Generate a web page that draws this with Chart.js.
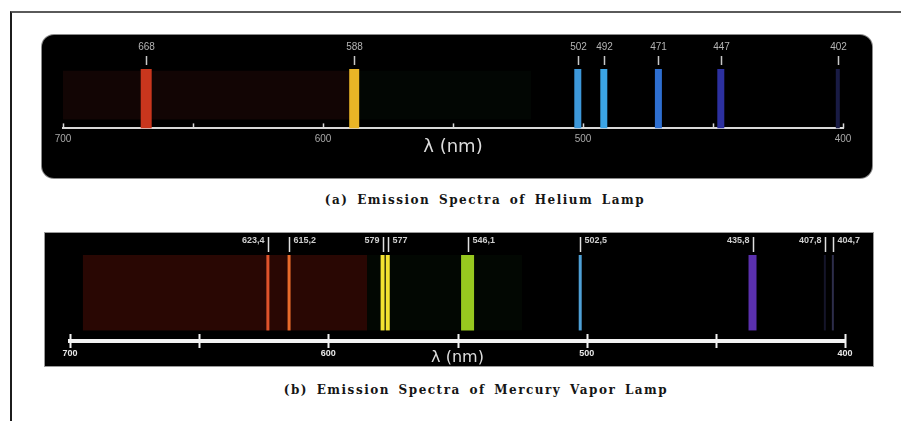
<!DOCTYPE html>
<html>
<head>
<meta charset="utf-8">
<script src="https://cdn.jsdelivr.net/npm/chart.js@4"></script>
<style>
html,body{margin:0;padding:0;background:#fff;width:901px;height:421px;overflow:hidden}
.frame{position:absolute;left:10px;top:11px;width:900px;height:420px;border-top:2px solid #5a5a5a;border-left:2px solid #1c1c1c}
.panel{position:absolute;background:#000}
#pa{left:42px;top:35px;width:830px;height:143px;border-radius:12px;box-shadow:0 0 0 1px #8a8a8a}
#pb{left:45px;top:233px;width:828px;height:133px;box-shadow:0 0 0 1px #9a9a9a}
.cap{position:absolute;width:460px;text-align:center;font:bold 12px "DejaVu Serif","Liberation Serif",serif;color:#151515;letter-spacing:1.5px;word-spacing:3px;line-height:16px;white-space:nowrap}
#ca{left:255px;top:192px}
#cb{left:246px;top:382px}
</style>
</head>
<body>
<div class="frame"></div>
<div class="panel" id="pa"><canvas id="heChart"></canvas></div>
<div class="cap" id="ca">(a) Emission Spectra of Helium Lamp</div>
<div class="panel" id="pb"><canvas id="hgChart"></canvas></div>
<div class="cap" id="cb">(b) Emission Spectra of Mercury Vapor Lamp</div>
<script>
// ── DATA ─────────────────────────────────────
const axisLabels=[700,600,500,400];           // labelled wavelengths on both axes (nm)
const heLines=[668,588,502,492,471,447,402];  // helium emission lines (nm)
const heLabels=['668','588','502','492','471','447','402'];
const hgLines=[623.4,615.2,579,577,546.1,502.5,435.8,407.8,404.7]; // mercury lines (nm)
const hgLabels=['623,4','615,2','579','577','546,1','502,5','435,8','407,8','404,7'];

// ── STYLE ────────────────────────────────────
const heColors=['#c9361d','#e9b526','#3d98da','#3ba5e6','#2e6fd1','#2c309f','#191b44'];
const heWidths=[11,10,7,7,7,7,4];
const hgColors=['#e0532b','#e96b2b','#f3e231','#f3e231','#97c81f','#4ea0d6','#5b30ae','#15152a','#2d2d4a'];
const hgWidths=[3,3,4,4,13,3,8,2,2];
const hgSides=['left','right','left','right','right','right','left','left','right'];

// draws line labels, axis tick marks and the faint continuum
const spectrum={
  id:'spectrum',
  beforeDatasetsDraw(chart,args,o){
    const ctx=chart.ctx,x=chart.scales.x,y=chart.scales.y;
    (o.bands||[]).forEach(b=>{
      const x0=x.getPixelForValue(b.from),x1=x.getPixelForValue(b.to);
      const y0=y.getPixelForValue(b.top),y1=y.getPixelForValue(b.bottom);
      ctx.fillStyle=b.color;ctx.fillRect(x0,y0,x1-x0,y1-y0);
    });
  },
  afterDraw(chart,args,o){
    const ctx=chart.ctx,x=chart.scales.x,area=chart.chartArea;
    ctx.save();
    // axis tick marks
    ctx.strokeStyle=o.tickColor;ctx.lineWidth=o.tickWidth;
    x.ticks.forEach(t=>{
      const px=Math.round(x.getPixelForValue(t.value))+.5;
      ctx.beginPath();ctx.moveTo(px,area.bottom-o.tickUp);ctx.lineTo(px,area.bottom+o.tickDown);ctx.stroke();
    });
    // line labels
    ctx.font=o.font;ctx.fillStyle=o.labelColor;ctx.textBaseline='middle';
    ctx.strokeStyle=o.markColor;ctx.lineWidth=1.5;
    o.values.forEach((v,i)=>{
      const px=Math.round(x.getPixelForValue(v))+.5;
      ctx.beginPath();ctx.moveTo(px,o.markTop);ctx.lineTo(px,o.markBottom);ctx.stroke();
      const side=o.sides?o.sides[i]:'center';
      if(side==='left'){ctx.textAlign='right';ctx.fillText(o.labels[i],px-4,o.labelY)}
      else if(side==='right'){ctx.textAlign='left';ctx.fillText(o.labels[i],px+4,o.labelY)}
      else{ctx.textAlign='center';ctx.fillText(o.labels[i],px,o.labelY)}
    });
    ctx.restore();
  }
};

function lineSets(vals,colors,widths){
  return vals.map((w,i)=>({data:[{x:w,y:0},{x:w,y:1}],borderColor:colors[i],borderWidth:widths[i],
    pointRadius:0,borderCapStyle:'butt',fill:false}));
}
function xAxis(tickFont,tickColor,tickPad,borderW,borderC,titleFont,titlePad){
  return {type:'linear',reverse:true,min:400,max:700,
    ticks:{stepSize:50,autoSkip:false,maxRotation:0,color:tickColor,font:tickFont,padding:tickPad,
      callback:v=>axisLabels.includes(v)?String(v):''},
    grid:{display:false,drawTicks:false},
    border:{display:true,width:borderW,color:borderC},
    title:{display:true,text:'λ (nm)',color:'#dcdcdc',font:titleFont,padding:titlePad}};
}

new Chart(document.getElementById('heChart'),{
  type:'line',
  data:{datasets:lineSets(heLines,heColors,heWidths)},
  options:{responsive:true,maintainAspectRatio:false,animation:false,events:[],
    layout:{padding:{left:21,right:29,top:31,bottom:20}},
    scales:{
      x:xAxis({family:'Liberation Sans',size:10},'#a8a8a8',5,2,'#d8d8d8',{family:'DejaVu Sans',size:18},{top:-14,bottom:0}),
      y:{display:false,min:0,max:1.05}
    },
    plugins:{legend:{display:false},tooltip:{enabled:false},
      spectrum:{values:heLines,labels:heLabels,font:'10px "Liberation Sans"',labelColor:'#b4b4b4',markColor:'#c8c8c8',
        labelY:12,markTop:21,markBottom:30,tickColor:'#d8d8d8',tickWidth:1.5,tickUp:5,tickDown:0,
        bands:[{from:700,to:588,top:0.97,bottom:0.15,color:'rgba(40,12,8,0.45)'},
               {from:588,to:520,top:0.97,bottom:0.15,color:'rgba(8,22,10,0.25)'}]}}
  },
  plugins:[spectrum]
});

new Chart(document.getElementById('hgChart'),{
  type:'line',
  data:{datasets:lineSets(hgLines,hgColors,hgWidths)},
  options:{responsive:true,maintainAspectRatio:false,animation:false,events:[],
    layout:{padding:{left:25,right:28,top:22,bottom:3}},
    scales:{
      x:xAxis({family:'Liberation Sans',size:9,weight:'bold'},'#e8e8e8',7,4,'#f2f2f2',{family:'DejaVu Sans',size:16},{top:-18,bottom:-4}),
      y:{display:false,min:-0.14,max:1}
    },
    plugins:{legend:{display:false},tooltip:{enabled:false},
      spectrum:{values:hgLines,labels:hgLabels,sides:hgSides,font:'bold 9px "Liberation Sans"',labelColor:'#cfcfcf',markColor:'#e0e0e0',
        labelY:8,markTop:4,markBottom:19,tickColor:'#f2f2f2',tickWidth:2,tickUp:7,tickDown:7,
        bands:[{from:695,to:585,top:1,bottom:0,color:'rgba(58,10,4,0.7)'},
               {from:585,to:525,top:1,bottom:0,color:'rgba(8,22,8,0.3)'}]}}
  },
  plugins:[spectrum]
});
</script>
</body>
</html>
